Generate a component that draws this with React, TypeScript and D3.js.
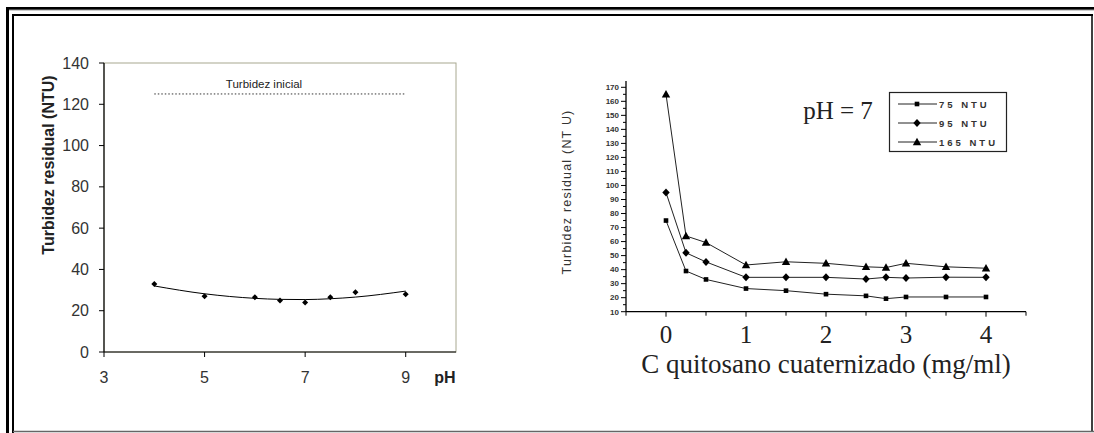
import React from "react";
import * as d3 from "d3";

// Left chart data
const phValues = [4, 5, 6, 6.5, 7, 7.5, 8, 9];
const turbResidual = [33, 27, 26.5, 25, 24, 26.5, 29, 28];
const fitPh = [4, 5, 6, 6.5, 7, 7.5, 8, 9];
const fitTurb = [32, 28.2, 26, 25.5, 25.4, 25.8, 26.6, 29.5];
const initialTurb = 125;
const leftYTicks = [0, 20, 40, 60, 80, 100, 120, 140];
const leftXTicks = [3, 5, 7, 9];

// Right chart data
const concValues = [0, 0.25, 0.5, 1, 1.5, 2, 2.5, 2.75, 3, 3.5, 4];
const series75 = [75, 39, 33, 26.5, 25, 22.5, 21.3, 19.3, 20.5, 20.5, 20.5];
const series95 = [95, 52, 45.5, 34.5, 34.5, 34.5, 33.3, 34.5, 34, 34.6, 34.5];
const series165 = [165, 64, 59.3, 43.3, 45.6, 44.5, 42, 41.5, 44.5, 42, 41];
const seriesNames = ["75 NTU", "95 NTU", "165 NTU"];
const rightYTicks = d3.range(10, 171, 10);
const rightXTicks = [0, 1, 2, 3, 4];

function Marker({ kind, x, y }: { kind: string; x: number; y: number }) {
  if (kind === "square") return <rect x={x - 2.3} y={y - 2.3} width={4.6} height={4.6} fill="#000" />;
  if (kind === "diamond")
    return <path d={`M${x},${y - 4}L${x + 3.7},${y}L${x},${y + 4}L${x - 3.7},${y}Z`} fill="#000" />;
  return <path d={`M${x},${y - 4.2}L${x + 4.2},${y + 3.2}L${x - 4.2},${y + 3.2}Z`} fill="#000" />;
}

export default function App() {
  // Left chart scales
  const lx = d3.scaleLinear().domain([3, 10]).range([104, 456]);
  const ly = d3.scaleLinear().domain([0, 140]).range([352, 63]);
  const fitLine = d3
    .line<number>()
    .x((_, i) => lx(fitPh[i]))
    .y((d) => ly(d))
    .curve(d3.curveMonotoneX)(fitTurb) as string;

  // Right chart scales
  const rx = d3.scaleLinear().domain([-0.5, 4.5]).range([626, 1026]);
  const ry = d3.scaleLinear().domain([10, 170]).range([311.7, 87.3]);
  const allSeries = [series75, series95, series165];
  const kinds = ["square", "diamond", "triangle"];
  const mkLine = (vals: number[]) =>
    d3
      .line<number>()
      .x((_, i) => rx(concValues[i]))
      .y((d) => ry(d))(vals) as string;

  const minorY = d3.range(15, 170, 10);
  const minorX = [-0.5, 0.5, 1.5, 2.5, 3.5, 4.5];

  return (
    <svg width={1094} height={433} style={{ position: "absolute", left: 0, top: 0, background: "#fff" }}>
      {/* Frame */}
      <rect x={0} y={0} width={1094} height={433} fill="#fff" />
      <line x1={7.5} y1={7} x2={7.5} y2={433} stroke="#000" strokeWidth={3} />
      <line x1={6} y1={8.5} x2={1094} y2={8.5} stroke="#000" strokeWidth={3} />
      <line x1={9} y1={10} x2={1094} y2={10} stroke="#999" strokeWidth={1} />
      <line x1={13} y1={14} x2={13} y2={433} stroke="#000" strokeWidth={2} />
      <line x1={12} y1={15} x2={1093} y2={15} stroke="#000" strokeWidth={2} />
      <line x1={1092} y1={14} x2={1092} y2={432} stroke="#000" strokeWidth={1.5} />
      <line x1={13} y1={431.5} x2={1094} y2={431.5} stroke="#666" strokeWidth={1.5} />

      {/* Left chart */}
      <g fontFamily="Liberation Sans, Arial, sans-serif">
        <rect x={lx(3)} y={ly(140)} width={lx(10) - lx(3)} height={ly(0) - ly(140)} fill="none" stroke="#a8a890" strokeWidth={1} />
        <line x1={lx(3)} y1={ly(140)} x2={lx(3)} y2={ly(0)} stroke="#000" strokeWidth={1.2} />
        <line x1={lx(3)} y1={ly(0)} x2={lx(10)} y2={ly(0)} stroke="#000" strokeWidth={1.2} />
        {leftYTicks.map((t) => (
          <g key={t}>
            <line x1={lx(3) - 5} x2={lx(3)} y1={ly(t)} y2={ly(t)} stroke="#000" />
            <text x={lx(3) - 15} y={ly(t) + 5.5} textAnchor="end" fontSize={16} fill="#333">
              {t}
            </text>
          </g>
        ))}
        {leftXTicks.map((t) => (
          <g key={t}>
            <line x1={lx(t)} x2={lx(t)} y1={ly(0)} y2={ly(0) + 5} stroke="#000" />
            <text x={lx(t)} y={ly(0) + 31} textAnchor="middle" fontSize={16} fill="#333">
              {t}
            </text>
          </g>
        ))}
        <text x={445} y={383} textAnchor="middle" fontSize={16} fontWeight="bold" fill="#222">
          pH
        </text>
        <text
          transform={`translate(54,165) rotate(-90)`}
          textAnchor="middle"
          fontSize={16}
          fontWeight="bold"
          fill="#222"
        >
          Turbidez residual (NTU)
        </text>
        <line x1={lx(4)} x2={lx(9)} y1={ly(initialTurb)} y2={ly(initialTurb)} stroke="#333" strokeWidth={1} strokeDasharray="1.5,2" />
        <text x={264} y={88} textAnchor="middle" fontSize={11.5} fill="#222">
          Turbidez inicial
        </text>
        <path d={fitLine} fill="none" stroke="#000" strokeWidth={1} />
        {phValues.map((p, i) => (
          <path
            key={i}
            d={`M${lx(p)},${ly(turbResidual[i]) - 3}L${lx(p) + 3},${ly(turbResidual[i])}L${lx(p)},${ly(turbResidual[i]) + 3}L${lx(p) - 3},${ly(turbResidual[i])}Z`}
            fill="#000"
          />
        ))}
      </g>

      {/* Right chart */}
      <g>
        <line x1={rx(-0.5)} x2={rx(-0.5)} y1={81} y2={ry(10)} stroke="#000" strokeWidth={1.3} />
        <line x1={rx(-0.5)} x2={rx(4.5)} y1={ry(10)} y2={ry(10)} stroke="#000" strokeWidth={1.3} />
        {rightYTicks.map((t) => (
          <g key={t}>
            <line x1={rx(-0.5) - 5} x2={rx(-0.5)} y1={ry(t)} y2={ry(t)} stroke="#000" />
            <text
              x={rx(-0.5) - 7}
              y={ry(t) + 2.8}
              textAnchor="end"
              fontSize={8}
              fontWeight="bold"
              fontFamily="Liberation Sans Narrow, Liberation Sans, Arial, sans-serif"
              fill="#333"
            >
              {t}
            </text>
          </g>
        ))}
        {minorY.map((t) => (
          <line key={t} x1={rx(-0.5) - 3} x2={rx(-0.5)} y1={ry(t)} y2={ry(t)} stroke="#000" />
        ))}
        {rightXTicks.map((t) => (
          <g key={t}>
            <line x1={rx(t)} x2={rx(t)} y1={ry(10)} y2={ry(10) + 5} stroke="#000" />
            <text x={rx(t)} y={ry(10) + 31} textAnchor="middle" fontSize={25} fontFamily="Liberation Serif, Times New Roman, serif" fill="#222">
              {t}
            </text>
          </g>
        ))}
        {minorX.map((t) => (
          <line key={t} x1={rx(t)} x2={rx(t)} y1={ry(10)} y2={ry(10) + 4} stroke="#000" />
        ))}
        <text x={826} y={373} textAnchor="middle" fontSize={27} fontFamily="Liberation Serif, Times New Roman, serif" fill="#222">
          C quitosano cuaternizado (mg/ml)
        </text>
        <text x={838} y={119} textAnchor="middle" fontSize={25} fontFamily="Liberation Serif, Times New Roman, serif" fill="#222">
          pH = 7
        </text>
        <text
          transform={`translate(571,192) rotate(-90)`}
          textAnchor="middle"
          fontSize={12.5}
          letterSpacing={1.2}
          fontFamily="Liberation Sans, Arial, sans-serif"
          fill="#333"
        >
          Turbidez residual (NT U)
        </text>
        {allSeries.map((s, si) => (
          <g key={si}>
            <path d={mkLine(s)} fill="none" stroke="#222" strokeWidth={1} />
            {s.map((v, i) => (
              <Marker key={i} kind={kinds[si]} x={rx(concValues[i])} y={ry(v)} />
            ))}
          </g>
        ))}
        {/* Legend */}
        <rect x={889.5} y={92.5} width={117} height={59} fill="#fff" stroke="#222" strokeWidth={1.2} />
        {seriesNames.map((n, i) => {
          const yy = 104 + i * 19;
          return (
            <g key={n}>
              <line x1={898} x2={937} y1={yy} y2={yy} stroke="#222" strokeWidth={1} />
              <Marker kind={kinds[i]} x={917} y={yy} />
              <text x={939} y={yy + 3.5} fontSize={9.5} letterSpacing={3} fontWeight="bold" fontFamily="Liberation Sans, Arial, sans-serif" fill="#333">
                {n}
              </text>
            </g>
          );
        })}
      </g>
    </svg>
  );
}
